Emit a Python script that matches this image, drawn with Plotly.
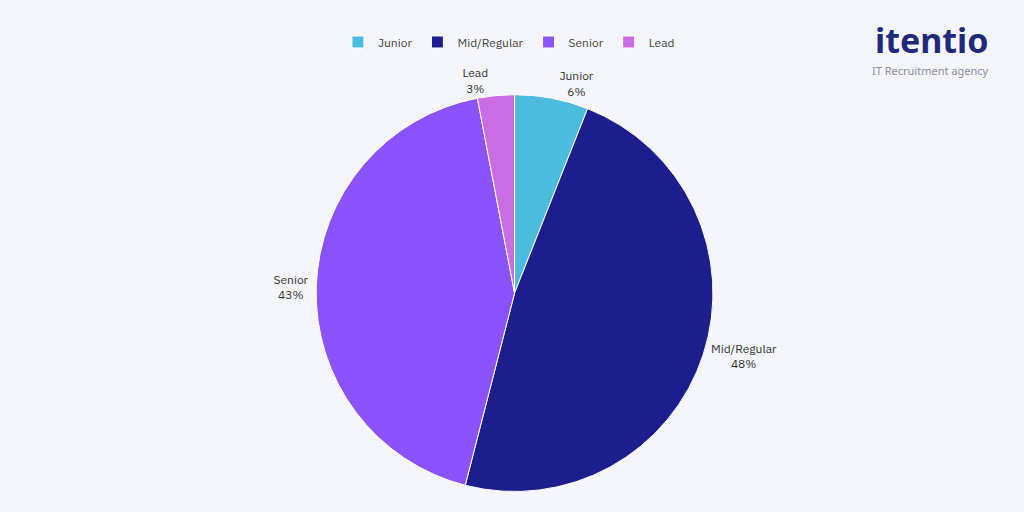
import plotly.graph_objects as go

labels = ["Junior", "Mid/Regular", "Senior", "Lead"]
values = [6, 48, 43, 3]
colors = ["#4CBCDE", "#1C1E8E", "#8B53FB", "#C86DE4"]

bg = "#F5F6FC"
font_family = "IBM Plex Sans, Inter, Noto Sans, sans-serif"

fig = go.Figure(go.Pie(
    labels=labels,
    values=values,
    sort=False,
    direction="clockwise",
    rotation=0,
    marker=dict(colors=colors, line=dict(color="white", width=1)),
    texttemplate="%{label}<br>%{percent:.0%}",
    textposition="outside",
    outsidetextfont=dict(family=font_family, size=12, color="#333333"),
    domain=dict(x=[0.308, 0.697], y=[0.040, 0.815]),
    showlegend=True,
))

fig.update_layout(
    width=1024, height=512,
    paper_bgcolor=bg, plot_bgcolor=bg,
    margin=dict(l=0, r=0, t=0, b=0),
    legend=dict(
        orientation="h", x=0.497, xanchor="center", y=0.918, yanchor="middle",
        font=dict(family=font_family, size=12, color="#444444"),
        bgcolor="rgba(0,0,0,0)", itemwidth=30,
    ),
    annotations=[
        dict(text="<b>itentio</b>", x=0.968, y=0.921, xref="paper", yref="paper",
             xanchor="right", yanchor="middle", showarrow=False,
             font=dict(family="Noto Sans, sans-serif", size=34, color="#1F2A7A")),
        dict(text="IT Recruitment agency", x=0.968, y=0.862, xref="paper", yref="paper",
             xanchor="right", yanchor="middle", showarrow=False,
             font=dict(family="Noto Sans, sans-serif", size=11, color="#8A8F9E")),
    ],
)

fig.write_html("out.html", config={"displayModeBar": False},
               post_script="document.body.style.margin='0';")
